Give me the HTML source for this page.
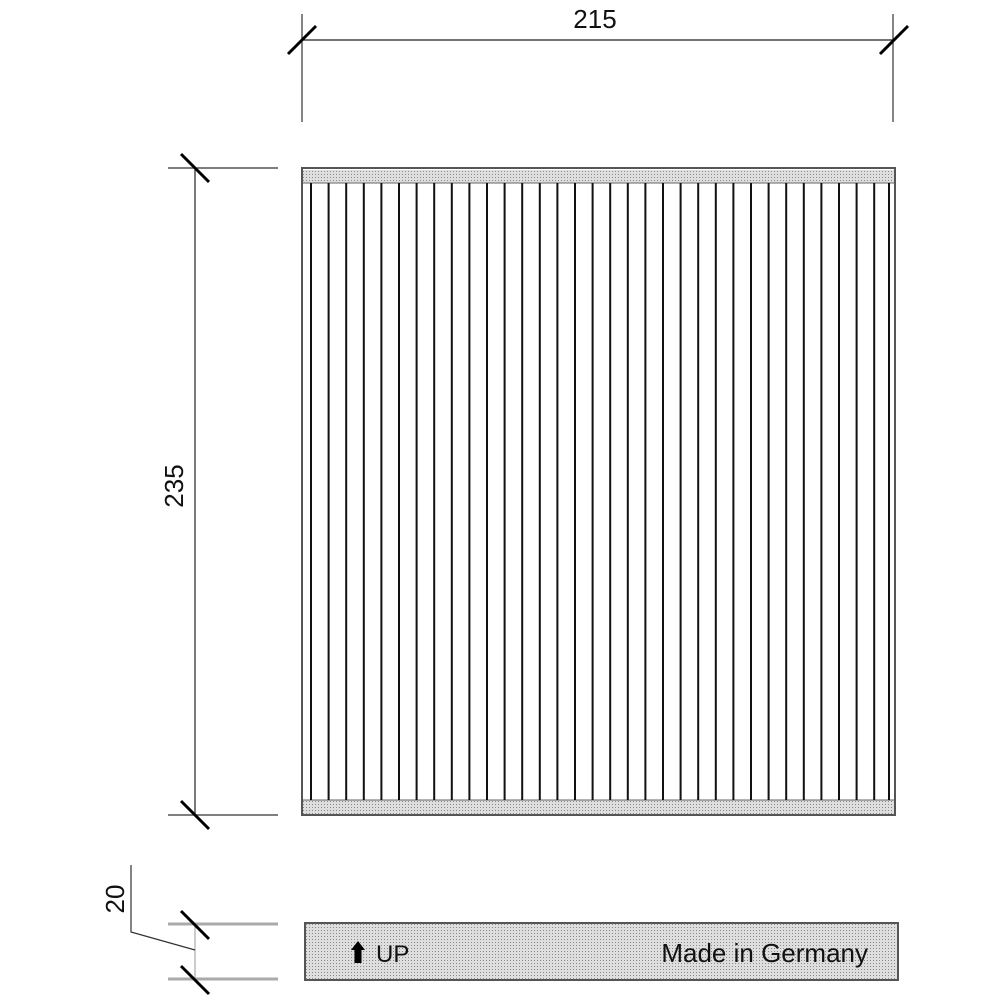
<!DOCTYPE html>
<html><head><style>html,body{margin:0;padding:0;background:#fff}svg{display:block}</style></head>
<body>
<svg width="1000" height="1000" viewBox="0 0 1000 1000" xmlns="http://www.w3.org/2000/svg" font-family="Liberation Sans, sans-serif">
<defs>
<pattern id="dots" width="3" height="3" patternUnits="userSpaceOnUse">
<rect width="3" height="3" fill="#dedede"/><rect width="1" height="1" fill="#8a8a8a"/>
</pattern>
</defs>
<line x1="302" y1="40" x2="895" y2="40" stroke="#222" stroke-width="1.2"/>
<line x1="302" y1="14" x2="302" y2="122" stroke="#333" stroke-width="1.2"/>
<line x1="893" y1="14" x2="893" y2="122" stroke="#333" stroke-width="1.2"/>
<line x1="288" y1="54" x2="316" y2="26" stroke="#000" stroke-width="3"/>
<line x1="880" y1="54" x2="908" y2="26" stroke="#000" stroke-width="3"/>
<text x="595" y="28" font-size="26" text-anchor="middle" fill="#111">215</text>
<line x1="195" y1="168" x2="195" y2="815" stroke="#222" stroke-width="1.2"/>
<line x1="168" y1="168" x2="278" y2="168" stroke="#333" stroke-width="1.2"/>
<line x1="168" y1="815" x2="278" y2="815" stroke="#333" stroke-width="1.2"/>
<line x1="181" y1="154" x2="209" y2="182" stroke="#000" stroke-width="3"/>
<line x1="181" y1="801" x2="209" y2="829" stroke="#000" stroke-width="3"/>
<text x="0" y="0" font-size="26" text-anchor="middle" fill="#111" transform="translate(183,486) rotate(-90)">235</text>
<rect x="302" y="168" width="593" height="647" fill="#fff" stroke="#555" stroke-width="2"/>
<rect x="303" y="170" width="591" height="13" fill="url(#dots)"/>
<rect x="303" y="800" width="591" height="14" fill="url(#dots)"/>
<line x1="303" y1="183" x2="894" y2="183" stroke="#666" stroke-width="1"/>
<line x1="303" y1="800" x2="894" y2="800" stroke="#666" stroke-width="1"/>
<g stroke="#111" stroke-width="2">
<path d="M311 183V800M328.6 183V800M346.2 183V800M363.8 183V800M381.4 183V800M399 183V800M416.6 183V800M434.2 183V800M451.8 183V800M469.4 183V800M487 183V800M504.6 183V800M522.2 183V800M539.8 183V800M557.4 183V800M575 183V800M592.6 183V800M610.2 183V800M627.8 183V800M645.4 183V800M663 183V800M680.6 183V800M698.2 183V800M715.8 183V800M733.4 183V800M751 183V800M768.6 183V800M786.2 183V800M803.8 183V800M821.4 183V800M839 183V800M856.6 183V800M874.2 183V800M889 183V800"/>
</g>
<rect x="305" y="923" width="593" height="57" fill="url(#dots)" stroke="#555" stroke-width="2"/>
<text x="376" y="962" font-size="24" fill="#111">UP</text>
<path d="M358 941 L365 950 L361.5 950 L361.5 963 L354.5 963 L354.5 950 L351 950 Z" fill="#000"/>
<text x="868" y="962" font-size="26" fill="#111" text-anchor="end">Made in Germany</text>
<line x1="168" y1="924" x2="278" y2="924" stroke="#aaa" stroke-width="3"/>
<line x1="168" y1="979" x2="278" y2="979" stroke="#aaa" stroke-width="3"/>
<line x1="195" y1="924" x2="195" y2="979" stroke="#bbb" stroke-width="1.5"/>
<line x1="181" y1="911" x2="209" y2="939" stroke="#000" stroke-width="3"/>
<line x1="181" y1="966" x2="209" y2="994" stroke="#000" stroke-width="3"/>
<polyline points="131,865 131,932 195,950" fill="none" stroke="#333" stroke-width="1.2"/>
<text x="0" y="0" font-size="26" text-anchor="middle" fill="#111" transform="translate(124,899) rotate(-90)">20</text>
</svg>
</body></html>
